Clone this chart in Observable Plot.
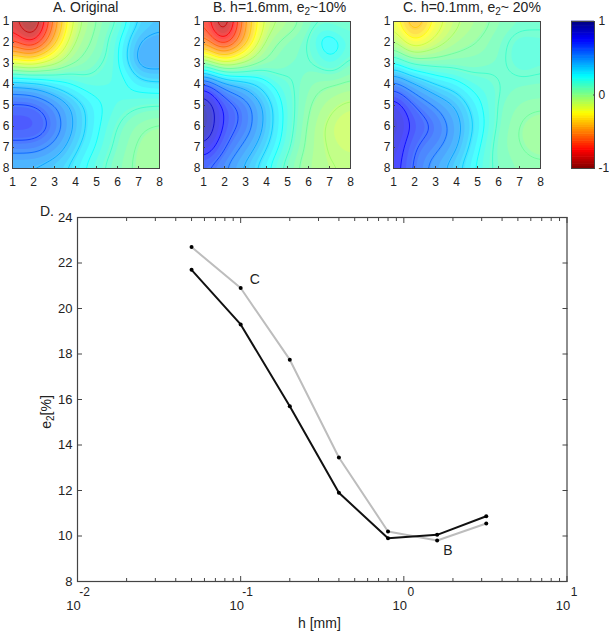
<!DOCTYPE html>
<html>
<head>
<meta charset="utf-8">
<script src="https://cdn.jsdelivr.net/npm/d3@7"></script>
<script src="https://cdn.jsdelivr.net/npm/@observablehq/plot@0.6"></script>
<style>
html,body{margin:0;padding:0;background:#fff;}
#page{position:relative;width:609px;height:634px;overflow:hidden;font-family:"Liberation Sans",Arial,sans-serif;color:#222;}
#page svg{position:absolute;background:none;overflow:visible;}
.t{position:absolute;white-space:nowrap;line-height:1;}
.t sub{font-size:10px;vertical-align:baseline;position:relative;top:3px;line-height:0;}
</style>
</head>
<body>
<div id="page"></div>
<script>
const gridAxis = [1,2,3,4,5,6,7,8];
const gridA = [
 [-0.78,-1.08,-0.52,-0.10, 0.05, 0.13, 0.36, 0.42],
 [-0.62,-0.84,-0.40,-0.02, 0.07, 0.22, 0.48, 0.50],
 [-0.12,-0.20,-0.10, 0.05, 0.12, 0.22, 0.52, 0.50],
 [ 0.45, 0.42, 0.32, 0.24, 0.20, 0.20, 0.30, 0.33],
 [ 0.68, 0.68, 0.58, 0.42, 0.27, 0.20, 0.15, 0.14],
 [ 0.75, 0.75, 0.63, 0.43, 0.27, 0.14, 0.06, 0.03],
 [ 0.60, 0.60, 0.52, 0.37, 0.24, 0.12, 0.03, 0.00],
 [ 0.42, 0.42, 0.38, 0.30, 0.18, 0.09, 0.03, 0.01]
];
const gridB = [
 [-0.60,-1.08,-0.45,-0.10,-0.02, 0.10, 0.12, 0.15],
 [-0.45,-0.82,-0.42, 0.00, 0.10, 0.15, 0.38, 0.18],
 [ 0.10,-0.15,-0.05, 0.07, 0.12, 0.14, 0.24, 0.10],
 [ 0.75, 0.50, 0.42, 0.30, 0.17, 0.08, 0.05, 0.02],
 [ 1.00, 0.72, 0.62, 0.42, 0.20, 0.05,-0.03,-0.08],
 [ 1.00, 0.72, 0.62, 0.42, 0.20, 0.03,-0.08,-0.15],
 [ 0.85, 0.65, 0.52, 0.36, 0.17, 0.02,-0.06,-0.10],
 [ 0.65, 0.55, 0.42, 0.27, 0.10, 0.00,-0.04,-0.05]
];
const gridC = [
 [-0.15,-0.52,-0.22,-0.07, 0.00, 0.07, 0.12, 0.13],
 [ 0.00,-0.28,-0.12, 0.00, 0.05, 0.12, 0.20, 0.18],
 [ 0.28, 0.12, 0.10, 0.10, 0.10, 0.13, 0.20, 0.17],
 [ 0.62, 0.47, 0.35, 0.30, 0.20, 0.15, 0.13, 0.12],
 [ 0.85, 0.65, 0.55, 0.45, 0.28, 0.13, 0.07, 0.06],
 [ 0.90, 0.72, 0.65, 0.50, 0.32, 0.12, 0.04, 0.00],
 [ 0.85, 0.65, 0.58, 0.47, 0.27, 0.10, 0.05, 0.02],
 [ 0.82, 0.62, 0.50, 0.38, 0.23, 0.12, 0.08, 0.07]
];
const colorStops = [-1,-0.75,-0.25,0,0.25,0.75,1];
const colorRange = ["#800000","#ff0000","#ffff00","#80ff80","#00ffff","#0000ff","#000080"];
const colorTicks = [-1,0,1];
const hValues = [0.05,0.1,0.2,0.4,0.8,1.6,3.2];
const errB = [21.7,19.3,15.7,11.9,9.9,10.05,10.87];
const errC = [22.7,20.9,17.75,13.45,10.2,9.8,10.55];
const xMajor = [0.01,0.1,1,10];
const xExponents = ["-2","-1","0","1"];
const xMinor = [0.02,0.03,0.04,0.05,0.06,0.07,0.08,0.09,0.2,0.3,0.4,0.5,0.6,0.7,0.8,0.9,2,3,4,5,6,7,8,9];
const yTicks = [8,10,12,14,16,18,20,22,24];
const seriesLabels = [{x:0.122,y:21.27,t:"C"},{x:1.86,y:9.36,t:"B"}];
const panelTitles = [
  {left:53,html:"A. Original"},
  {left:213,html:"B. h=1.6mm, e<sub>2</sub>~10%"},
  {left:403,html:"C. h=0.1mm, e<sub>2</sub>~ 20%"}
];

const page = document.getElementById("page");
const frameColor = "#444";
const colorScale = {type:"linear",domain:colorStops,range:colorRange,clamp:true,interpolate:"rgb"};
const fillLevels = [-3].concat(d3.range(-1,1.0001,2/48));
const lineLevels = d3.range(-0.95,1.0001,0.1);

function place(svg,left,top){svg.style.left=left+"px";svg.style.top=top+"px";page.appendChild(svg);}

function panel(grid,left){
  const pts = grid.flatMap((row,r)=>row.map((v,c)=>({x:gridAxis[c],y:gridAxis[r],v})));
  const common = {x:"x",y:"y",value:"v",interpolate:"barycentric",blur:7,pixelSize:1};
  const svg = Plot.plot({
    width:170,height:190,marginLeft:12,marginRight:11,marginTop:21,marginBottom:22,
    style:{fontFamily:'"Liberation Sans",Arial,sans-serif',fontSize:"12px",color:"#222",background:"none"},
    x:{domain:[1,8]},y:{domain:[1,8],reverse:true},color:colorScale,
    marks:[
      Plot.contour(pts,{...common,fill:"value",thresholds:fillLevels,stroke:null}),
      Plot.frame({fill:"white",fillOpacity:0.3,stroke:null}),
      Plot.contour(pts,{...common,stroke:"value",fill:"none",thresholds:lineLevels,strokeWidth:0.8}),
      Plot.frame({stroke:frameColor,strokeWidth:1}),
      Plot.axisX({ticks:gridAxis,tickSize:-2,tickPadding:11,tickFormat:d=>d,label:null,stroke:frameColor}),
      Plot.axisY({ticks:gridAxis,tickSize:-2,tickPadding:5,tickFormat:d=>d,label:null,stroke:frameColor,textAnchor:"end"})
    ]
  });
  place(svg,left,0);
}
panel(gridA,0);
panel(gridB,191);
panel(gridC,381);

const barLevels = d3.range(-1,1,2/64).map(v=>({y1:v,y2:v+2/64,v:v+1/64}));
place(Plot.plot({
  width:49,height:190,marginLeft:11,marginRight:15,marginTop:21,marginBottom:22,
  style:{fontFamily:'"Liberation Sans",Arial,sans-serif',fontSize:"12px",color:"#222",background:"none"},
  x:{domain:[0,1],axis:null},y:{domain:[-1,1]},color:colorScale,
  marks:[
    Plot.rectY(barLevels,{x1:0,x2:1,y1:"y1",y2:"y2",fill:"v",insetTop:-0.3,insetBottom:-0.3}),
    Plot.frame({stroke:frameColor,strokeWidth:1}),
    Plot.axisY({anchor:"right",ticks:colorTicks,tickSize:-2,tickPadding:6,tickFormat:d=>d,label:null,stroke:frameColor})
  ]
}),560,0);

const rows = (ys)=>hValues.map((x,i)=>({x,y:ys[i]}));
place(Plot.plot({
  width:609,height:434,marginLeft:77,marginRight:42.5,marginTop:17,marginBottom:53,
  style:{fontFamily:'"Liberation Sans",Arial,sans-serif',fontSize:"13px",color:"#222",background:"none"},
  x:{type:"log",domain:[0.01,10]},y:{domain:[8,24]},
  marks:[
    Plot.frame({stroke:frameColor,strokeWidth:1.2}),
    Plot.axisY({ticks:yTicks,tickSize:-5,tickPadding:10,tickFormat:d=>d,label:null,stroke:frameColor}),
    Plot.axisY({anchor:"right",ticks:yTicks,tickSize:-5,tickFormat:()=>"",label:null,stroke:frameColor}),
    Plot.axisX({ticks:xMajor,tickSize:-5,tickFormat:()=>"",label:null,stroke:frameColor}),
    Plot.axisX({anchor:"top",ticks:xMajor,tickSize:-5,tickFormat:()=>"",label:null,stroke:frameColor}),
    Plot.axisX({ticks:xMinor,tickSize:-3,tickFormat:()=>"",label:null,stroke:frameColor}),
    Plot.axisX({anchor:"top",ticks:xMinor,tickSize:-3,tickFormat:()=>"",label:null,stroke:frameColor}),
    Plot.text(xMajor,{x:d=>d,text:()=>"10",frameAnchor:"bottom",dy:28,dx:-4,fontSize:13,fill:"#222"}),
    Plot.text(xMajor,{x:d=>d,text:(d,i)=>xExponents[i],frameAnchor:"bottom",dy:14,dx:7,fontSize:12,fill:"#222"}),
    Plot.line(rows(errC),{x:"x",y:"y",stroke:"#bdbdbd",strokeWidth:2}),
    Plot.dot(rows(errC),{x:"x",y:"y",r:2,fill:"#000"}),
    Plot.line(rows(errB),{x:"x",y:"y",stroke:"#111",strokeWidth:2}),
    Plot.dot(rows(errB),{x:"x",y:"y",r:2,fill:"#000"}),
    Plot.text(seriesLabels,{x:"x",y:"y",text:"t",fontSize:14,fill:"#222"})
  ]
}),0,200);

function label(html,left,top,size,extra){
  const d=document.createElement("div");
  d.className="t";d.innerHTML=html;d.style.left=left+"px";d.style.top=top+"px";d.style.fontSize=size+"px";
  if(extra)Object.assign(d.style,extra);
  page.appendChild(d);
}
panelTitles.forEach(t=>label(t.html,t.left,0,14));
label("D.",40,204,14);
label("h [mm]",298,616,14);
label("e<sub>2</sub>[%]",46,412,14,{transform:"translate(-50%,-50%) rotate(-90deg)",transformOrigin:"center"});
</script>
</body>
</html>
